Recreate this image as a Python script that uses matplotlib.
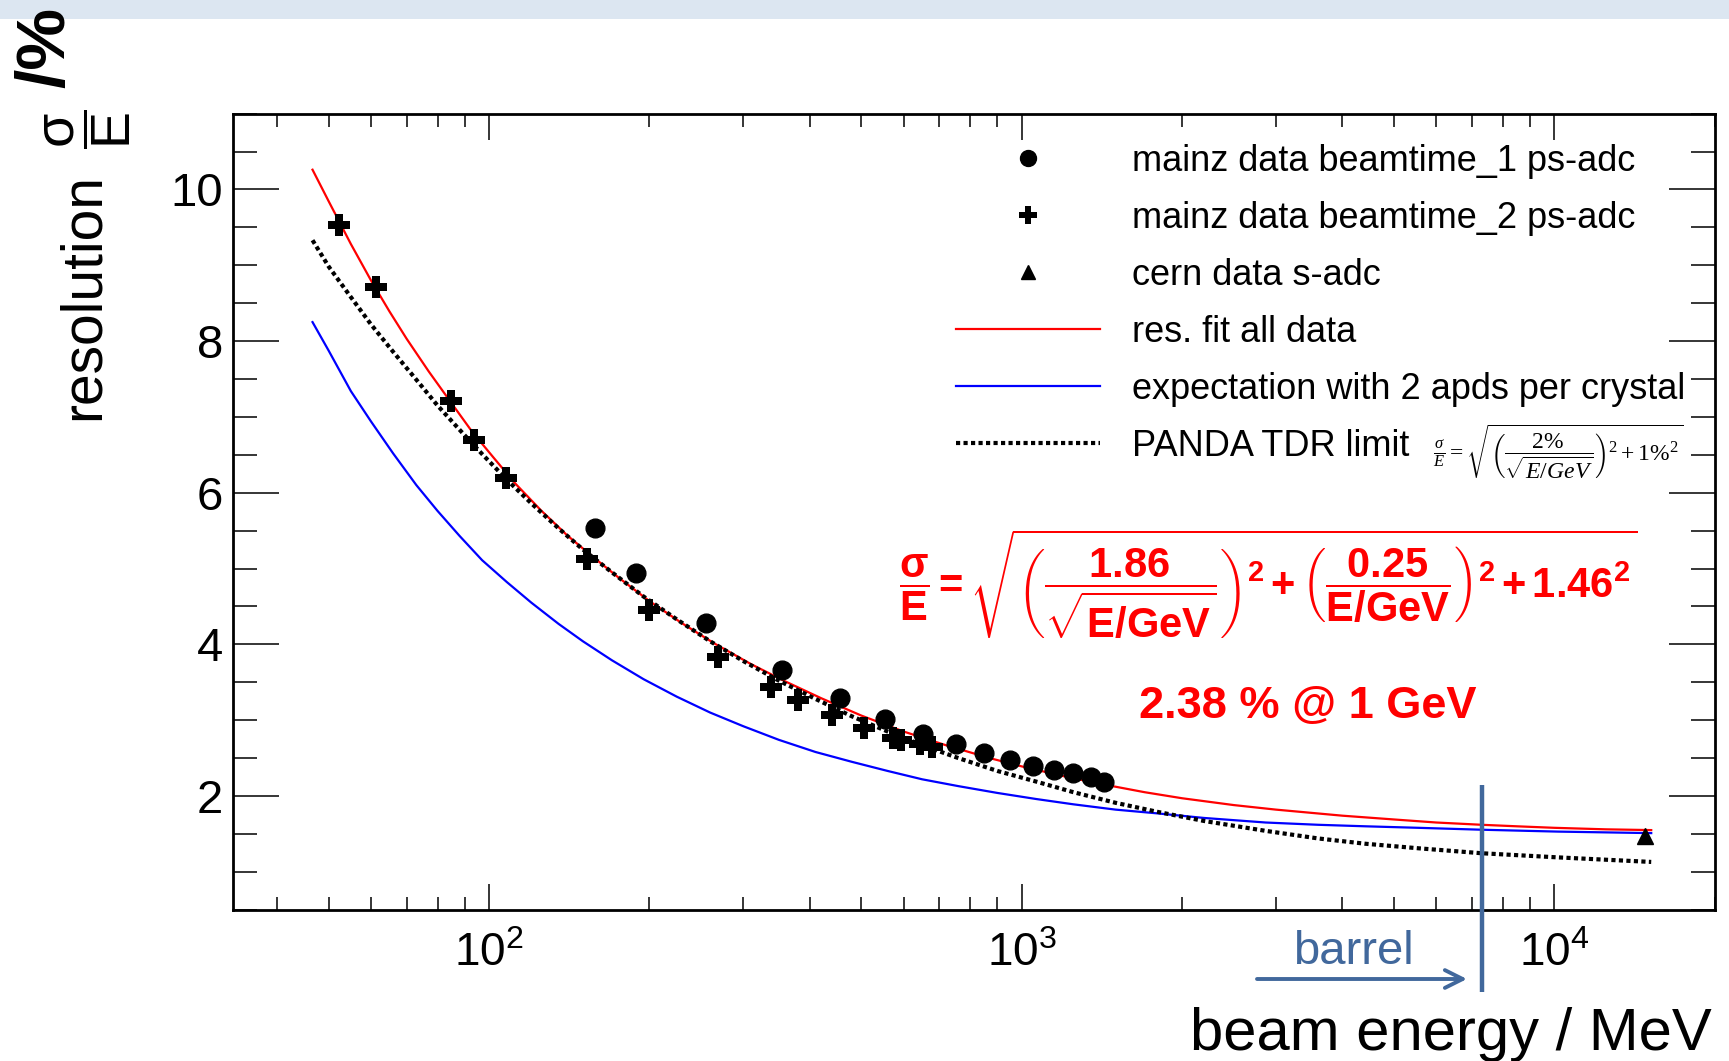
import matplotlib
matplotlib.use('Agg')
import matplotlib.pyplot as plt
import matplotlib.transforms as mtransforms
from matplotlib.patches import Rectangle
from matplotlib.ticker import MultipleLocator, LogLocator, NullFormatter

plt.rcParams['font.family'] = ['Liberation Sans', 'DejaVu Sans']
plt.rcParams['mathtext.fontset'] = 'custom'
plt.rcParams['mathtext.rm'] = 'Liberation Serif'
plt.rcParams['mathtext.it'] = 'Liberation Serif:italic'
plt.rcParams['mathtext.bf'] = 'Liberation Sans:bold'
plt.rcParams['mathtext.sf'] = 'Liberation Sans'

# ---------------- data ----------------
# mainz data beamtime_1 ps-adc (circles)
E1 = [158, 189, 255, 355, 455, 553, 652, 753, 851, 951, 1051, 1148, 1250, 1350, 1429]
R1 = [5.53, 4.94, 4.28, 3.66, 3.29, 3.02, 2.82, 2.68, 2.57, 2.48, 2.39, 2.34, 2.30, 2.25, 2.18]
# mainz data beamtime_2 ps-adc (crosses)
E2 = [52.3, 61.4, 84.9, 93.6, 107.7, 152.7, 199.7, 269.3, 338, 380, 441, 506, 573, 594, 645, 679]
R2 = [9.53, 8.71, 7.21, 6.70, 6.19, 5.12, 4.45, 3.83, 3.44, 3.26, 3.07, 2.90, 2.77, 2.74, 2.69, 2.64]
# cern data s-adc (triangle)
E3 = [14800]
R3 = [1.47]
# res. fit all data (red curve, sampled along the drawn line)
E_fit = [46.6, 50, 55, 60, 65, 70, 77, 85, 93, 102, 112, 125, 140, 155, 175, 200, 230, 265,
         310, 360, 420, 500, 600, 720, 870, 1000, 1200, 1429, 1700, 2000, 2500, 3000, 4000,
         5000, 6000, 7300, 8500, 10000, 12500, 15200]
R_fit = [10.26, 9.84, 9.28, 8.80, 8.39, 8.03, 7.60, 7.18, 6.80, 6.46, 6.12, 5.77, 5.44, 5.18,
         4.88, 4.57, 4.28, 4.01, 3.74, 3.51, 3.29, 3.06, 2.85, 2.67, 2.50, 2.39, 2.26, 2.15,
         2.05, 1.97, 1.88, 1.82, 1.74, 1.69, 1.65, 1.62, 1.60, 1.58, 1.56, 1.55]
# expectation with 2 apds per crystal (blue curve)
E_exp = [46.6, 50, 55, 60, 66, 73, 80, 88, 97, 108, 120, 135, 150, 170, 195, 225, 260, 300,
         350, 410, 480, 560, 650, 760, 900, 1064, 1250, 1500, 1800, 2200, 2869, 3600, 4416,
         5557, 7288, 10160, 15200]
R_exp = [8.25, 7.87, 7.34, 6.94, 6.52, 6.10, 5.76, 5.43, 5.11, 4.82, 4.55, 4.27, 4.04, 3.79,
         3.54, 3.31, 3.10, 2.92, 2.74, 2.58, 2.45, 2.33, 2.22, 2.13, 2.04, 1.96, 1.89, 1.82,
         1.77, 1.71, 1.65, 1.62, 1.60, 1.58, 1.555, 1.53, 1.51]
# PANDA TDR limit (dotted curve)
E_tdr = [46.6, 50, 55, 60, 66, 73, 80, 88, 97, 108, 120, 135, 150, 170, 195, 225, 260, 300,
         350, 410, 480, 560, 650, 760, 900, 1064, 1250, 1500, 1800, 2200, 2869, 3600, 4416,
         5557, 7288, 10160, 15200]
R_tdr = [9.33, 8.98, 8.58, 8.22, 7.86, 7.49, 7.15, 6.83, 6.51, 6.17, 5.86, 5.53, 5.25, 4.95,
         4.63, 4.33, 4.04, 3.78, 3.52, 3.28, 3.05, 2.85, 2.67, 2.50, 2.33, 2.19, 2.05, 1.91,
         1.79, 1.67, 1.54, 1.44, 1.37, 1.31, 1.245, 1.19, 1.13]

E_barrel = 7300
xticks = [100, 1000, 10000]
xtick_labels = [r'$\mathsf{10^{2}}$', r'$\mathsf{10^{3}}$', r'$\mathsf{10^{4}}$']
yticks = [2, 4, 6, 8, 10]
labels = ['mainz data beamtime_1 ps-adc', 'mainz data beamtime_2 ps-adc', 'cern data s-adc',
          'res. fit all data', 'expectation with 2 apds per crystal', 'PANDA TDR limit']

# ---------------- figure ----------------
W, H = 1729, 1061
fig = plt.figure(figsize=(W / 100, H / 100), dpi=100)
fig.patches.append(Rectangle((0, 1 - 19 / H), 1, 19 / H, transform=fig.transFigure,
                             facecolor='#dce6f1', edgecolor='none', zorder=0))

ax = fig.add_axes([232.7 / W, 1 - 909.7 / H, (1714.7 - 232.7) / W, (909.7 - 113.6) / H])

l_fit, = ax.plot(E_fit, R_fit, color='#ff0000', lw=1.6, label=labels[3], zorder=3)
l_exp, = ax.plot(E_exp, R_exp, color='#0000ff', lw=1.6, label=labels[4], zorder=3)
l_tdr, = ax.plot(E_tdr, R_tdr, color='black', lw=3.0, ls=(0, (1.0, 0.8)), label=labels[5], zorder=3)
p1, = ax.plot(E1, R1, 'o', color='black', ms=13.5, label=labels[0], zorder=4)
p2, = ax.plot(E2, R2, 'P', color='black', ms=15.5, markeredgewidth=0, label=labels[1], zorder=4)
p3, = ax.plot(E3, R3, '^', color='black', ms=12, label=labels[2], zorder=4)

ax.set_xscale('log')
ax.set_xlim(33, 20000)
ax.set_ylim(0.5, 11)

ax.set_xticks(xticks)
ax.set_xticklabels(xtick_labels, fontsize=33)
ax.xaxis.set_minor_locator(LogLocator(base=10, subs=[2, 3, 4, 5, 6, 7, 8, 9], numticks=20))
ax.xaxis.set_minor_formatter(NullFormatter())
ax.set_yticks(yticks)
ax.set_yticklabels([str(v) for v in yticks], fontsize=34)
ax.yaxis.set_minor_locator(MultipleLocator(0.5))

ax.tick_params(axis='x', which='major', direction='in', length=19, width=1.1, top=True, pad=16)
ax.tick_params(axis='x', which='minor', direction='in', length=9.5, width=1.1, top=True)
ax.tick_params(axis='y', which='major', direction='in', length=33, width=1.1, right=True, pad=7)
ax.tick_params(axis='y', which='minor', direction='in', length=17, width=1.1, right=True)
for s in ax.spines.values():
    s.set_linewidth(2.0)

leg = ax.legend(handles=[p1, p2, p3, l_fit, l_exp, l_tdr], loc='upper left',
                bbox_to_anchor=(0.488, 0.962), frameon=False, fontsize=26,
                handlelength=4.0, handletextpad=0.89, labelspacing=0.61,
                borderpad=0, borderaxespad=0, markerscale=0.85)

# PANDA TDR formula
fig.text(1433 / W, 1 - 452 / H,
         r'$\frac{\sigma}{E}=\sqrt{\left(\dfrac{2\%}{\sqrt{E/GeV}}\right)^{2}+1\%^{2}}$',
         fontsize=17, ha='left', va='center')

# fit formula
red = '#ff0000'
fig.text(899 / W, 1 - 584 / H,
         r'$\mathbf{\dfrac{σ}{E}=\sqrt{\left(\dfrac{1.86}{\sqrt{E/GeV}}\right)^{2}+\left(\dfrac{0.25}{E/GeV}\right)^{2}+1.46^{2}}}$',
         fontsize=30, color=red, ha='left', va='center')
fig.text(1139 / W, 1 - 706 / H, '2.38 % @ 1 GeV', fontsize=32.5, fontweight='bold',
         color=red, ha='left', va='center')

# axis titles
fig.text(1712 / W, 1 - 1050 / H, 'beam energy / MeV', fontsize=43, ha='right', va='baseline')
fig.text(83.5 / W, 1 - 297 / H, 'resolution', fontsize=41, rotation=90, ha='center', va='center')
fig.text(88 / W, 1 - 129 / H, r'$\dfrac{\mathsf{σ}}{\mathsf{E}}$', fontsize=40, rotation=90,
         ha='center', va='center')
fig.text(46 / W, 1 - 47 / H, '/%', fontsize=50, fontweight='bold', rotation=90,
         ha='center', va='center')

# barrel marker
bc = '#41689c'
trans = mtransforms.blended_transform_factory(ax.transData, ax.transAxes)
ax.plot([E_barrel, E_barrel], [0.1566, -0.1034], transform=trans, clip_on=False,
        color=bc, lw=3.2, solid_capstyle='butt', zorder=5)
ax.annotate('', xy=(1467 / W, 1 - 979 / H), xytext=(1257 / W, 1 - 979 / H),
            xycoords='figure fraction', textcoords='figure fraction',
            arrowprops=dict(arrowstyle='->', color=bc, lw=2.8, mutation_scale=32,
                            shrinkA=0, shrinkB=0))
fig.text(1353 / W, 1 - 964 / H, 'barrel', fontsize=34, color=bc, ha='center', va='baseline')

fig.savefig('out.png', dpi=100)
